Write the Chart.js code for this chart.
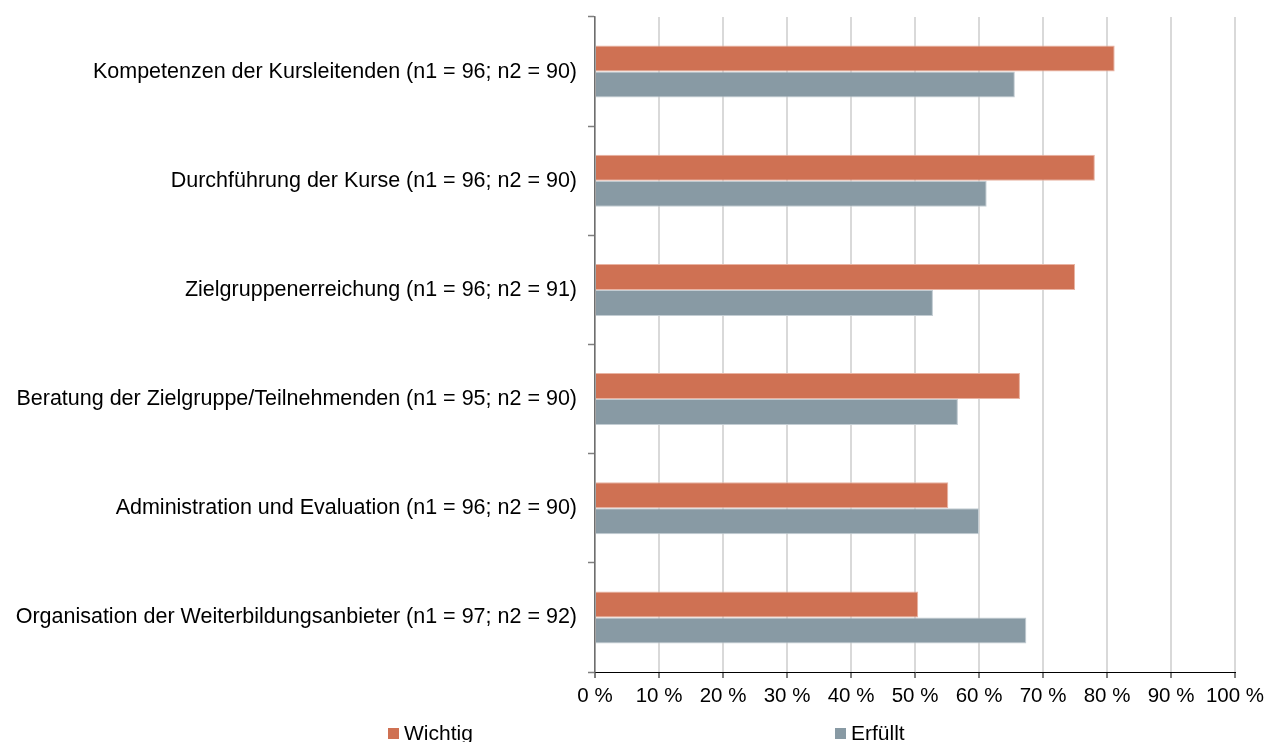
<!DOCTYPE html>
<html lang="de">
<head>
<meta charset="utf-8">
<title>Wichtigkeit und Erfüllung</title>
<script src="https://cdn.jsdelivr.net/npm/chart.js@4/dist/chart.umd.min.js"></script>
<style>
  html, body { margin: 0; padding: 0; background: #ffffff; }
  #wrap { width: 1268px; height: 742px; position: relative; }
</style>
</head>
<body>
<div id="wrap"><canvas id="c" width="1268" height="742"></canvas></div>
<script>
// Bereiche mit Stichprobengrößen (n1 = wichtig, n2 = erfüllt)
const categories = [
  'Kompetenzen der Kursleitenden (n1 = 96; n2 = 90)',
  'Durchführung der Kurse (n1 = 96; n2 = 90)',
  'Zielgruppenerreichung (n1 = 96; n2 = 91)',
  'Beratung der Zielgruppe/Teilnehmenden (n1 = 95; n2 = 90)',
  'Administration und Evaluation (n1 = 96; n2 = 90)',
  'Organisation der Weiterbildungsanbieter (n1 = 97; n2 = 92)'
];
// Anteile in Prozent
const wichtig  = [81.2, 78.1, 75.0, 66.4, 55.2, 50.5];
const erfuellt = [65.6, 61.2, 52.8, 56.7, 60.0, 67.4];
// Achsenbeschriftung
const xTicks = [0, 10, 20, 30, 40, 50, 60, 70, 80, 90, 100];

const FONT = '"Liberation Sans", Arial, Helvetica, sans-serif';

// Legende unterhalb der Achse, zwei weit auseinanderliegende Einträge
const bottomLegend = {
  id: 'bottomLegend',
  afterDraw(chart) {
    const ctx = chart.ctx;
    const slots = [388, 835];
    const y = 733;
    ctx.save();
    ctx.font = '21px ' + FONT;
    ctx.textBaseline = 'middle';
    ctx.textAlign = 'left';
    chart.data.datasets.forEach((ds, i) => {
      const x = slots[i];
      ctx.fillStyle = ds.backgroundColor;
      ctx.fillRect(x, y - 5, 11, 11);
      ctx.fillStyle = '#000000';
      ctx.fillText(ds.label, x + 16, y + 1);
    });
    ctx.restore();
  }
};

new Chart(document.getElementById('c'), {
  type: 'bar',
  data: {
    labels: categories,
    datasets: [
      {
        label: 'Wichtig',
        data: wichtig,
        backgroundColor: '#CF7153',
        borderColor: '#E9B3A2',
        borderWidth: 1,
        borderSkipped: 'start',
        barPercentage: 1.0,
        categoryPercentage: 0.477
      },
      {
        label: 'Erfüllt',
        data: erfuellt,
        backgroundColor: '#889AA4',
        borderColor: '#C3CDD3',
        borderWidth: 1,
        borderSkipped: 'start',
        barPercentage: 1.0,
        categoryPercentage: 0.477
      }
    ]
  },
  options: {
    indexAxis: 'y',
    responsive: false,
    animation: false,
    devicePixelRatio: 1,
    layout: { padding: { top: 17, right: 33, bottom: 34, left: 0 } },
    plugins: {
      legend: { display: false },
      tooltip: { enabled: false }
    },
    scales: {
      x: {
        min: 0,
        max: 100,
        afterBuildTicks(scale) {
          scale.ticks = xTicks.map(v => ({ value: v }));
        },
        afterFit(scale) {
          scale.height = 36;
          scale.paddingLeft = 0;
          scale.paddingRight = 0;
        },
        grid: {
          color: '#D9D9D9',
          lineWidth: 2,
          drawTicks: true,
          tickLength: 6,
          tickColor: '#000000',
          tickWidth: 1
        },
        border: { display: true, color: '#000000', width: 1 },
        ticks: {
          padding: 6,
          color: '#000000',
          font: { family: FONT, size: 20.5 },
          maxRotation: 0,
          callback: v => v + ' %'
        }
      },
      y: {
        afterFit(scale) {
          scale.width = 595;
          scale.paddingTop = 0;
          scale.paddingBottom = 0;
        },
        grid: {
          offset: true,
          drawOnChartArea: false,
          drawTicks: true,
          tickLength: 7,
          tickColor: '#7F7F7F',
          tickWidth: 1.5
        },
        border: { display: true, color: '#6E6E6E', width: 1.5 },
        ticks: {
          padding: 11,
          color: '#000000',
          font: { family: FONT, size: 21.5 },
          autoSkip: false
        }
      }
    }
  },
  plugins: [bottomLegend]
});
</script>
</body>
</html>
